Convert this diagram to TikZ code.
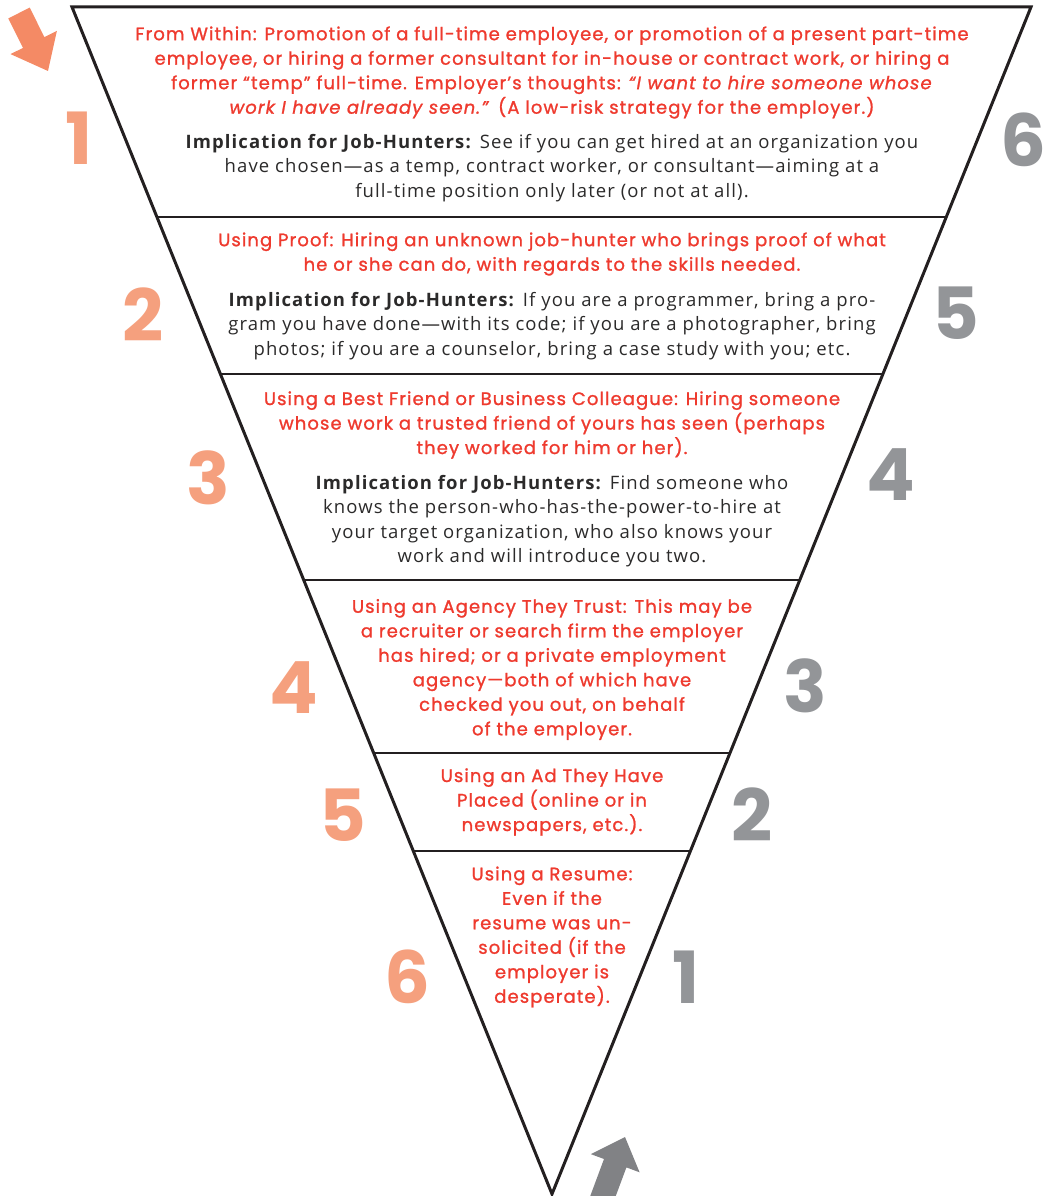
\documentclass[tikz,border=0pt]{standalone}
\usepackage{fontspec}
\usetikzlibrary{calc}
\newfontfamily\headfont{Poppins}[LetterSpace=6,FakeBold=1.2]
\newfontfamily\bodyfont{Open Sans}[LetterSpace=6]
\newfontfamily\numfont{Poppins}
\definecolor{headred}{HTML}{EE3A2E}
\definecolor{bodyink}{HTML}{2B2A2A}
\definecolor{numsalmon}{HTML}{F5A07E}
\definecolor{numgray}{HTML}{939598}
\definecolor{arroworange}{HTML}{F48A65}
\definecolor{arrowgray}{HTML}{818285}
\definecolor{lineink}{HTML}{231F20}
\tikzset{
  headtext/.style={text=headred, align=center, inner sep=0pt, font={\headfont\fontsize{18}{24.5}\selectfont}},
  bodytext/.style={text=bodyink, align=center, inner sep=0pt, font={\bodyfont\fontsize{18.5}{24.5}\selectfont}},
  numleft/.style={text=numsalmon, inner sep=0pt, font={\numfont\bfseries\fontsize{72}{72}\selectfont}},
  numright/.style={text=numgray, inner sep=0pt, font={\numfont\bfseries\fontsize{72}{72}\selectfont}},
  edge/.style={draw=lineink, line width=3pt, line join=miter},
  divider/.style={draw=lineink, line width=2.5pt},
}
\begin{document}
\begin{tikzpicture}[x=1pt,y=-1pt]
\useasboundingbox (0,0) rectangle (1044,1196);
\clip (0,0) rectangle (1044,1196);
% triangle
\coordinate (A) at (72,7);
\coordinate (B) at (1031,7);
\coordinate (C) at (552,1194);
\draw[edge] (A) -- (B) -- (C) -- cycle;
% dividers
\foreach \yy [count=\i] in {217,374,580,753,851}{
  \coordinate (L\i) at ($(A)!{(\yy-7)/1187}!(C)$);
  \coordinate (R\i) at ($(B)!{(\yy-7)/1187}!(C)$);
  \draw[divider] (L\i) -- (R\i);
}
% texts
\node[headtext] (h1) at (552,72.5) {From Within: Promotion of a full-time employee, or promotion of a present part-time\\
employee, or hiring a former consultant for in-house or contract work, or hiring a\\
former “temp” full-time. Employer’s thoughts: \textit{“I want to hire someone whose}\\
\textit{work I have already seen.”} (A low-risk strategy for the employer.)};
\node[bodytext] (b1) at (552,168) {\textbf{Implication for Job-Hunters:} See if you can get hired at an organization you\\
have chosen—as a temp, contract worker, or consultant—aiming at a\\
full-time position only later (or not at all).};
\node[headtext] (h2) at (552,254) {Using Proof: Hiring an unknown job-hunter who brings proof of what\\
he or she can do, with regards to the skills needed.};
\node[bodytext] (b2) at (552,326) {\textbf{Implication for Job-Hunters:} If you are a programmer, bring a pro-\\
gram you have done—with its code; if you are a photographer, bring\\
photos; if you are a counselor, bring a case study with you; etc.};
\node[headtext] (h3) at (552,425) {Using a Best Friend or Business Colleague: Hiring someone\\
whose work a trusted friend of yours has seen (perhaps\\
they worked for him or her).};
\node[bodytext] (b3) at (552,521) {\textbf{Implication for Job-Hunters:} Find someone who\\
knows the person-who-has-the-power-to-hire at\\
your target organization, who also knows your\\
work and will introduce you two.};
\node[headtext] (h4) at (552,669.5) {Using an Agency They Trust: This may be\\
a recruiter or search firm the employer\\
has hired; or a private employment\\
agency—both of which have\\
checked you out, on behalf\\
of the employer.};
\node[headtext] (h5) at (552,802) {Using an Ad They Have\\
Placed (online or in\\
newspapers, etc.).};
\node[headtext] (h6) at (552,937) {Using a Resume:\\
Even if the\\
resume was un-\\
solicited (if the\\
employer is\\
desperate).};
% numbers
\node[numleft] (nl1) at (79,138) {1};
\node[numleft] (nl2) at (143,315) {2};
\node[numleft] (nl3) at (208,478) {3};
\node[numleft] (nl4) at (294,688) {4};
\node[numleft] (nl5) at (343,815) {5};
\node[numleft] (nl6) at (407,977) {6};
\node[numright] (nr6) at (1023,140) {6};
\node[numright] (nr5) at (956,313) {5};
\node[numright] (nr4) at (891,475) {4};
\node[numright] (nr3) at (805,686) {3};
\node[numright] (nr2) at (752,815) {2};
\node[numright] (nr1) at (686,977) {1};
% arrows
\fill[arroworange] (8.3,18.4) -- (29.7,7.6) -- (44.4,37.1) -- (56.9,30.9) -- (48,71) -- (10.5,54.1) -- (23.0,47.9) -- cycle;
\fill[arrowgray] (625,1137) -- (639.6,1172.3) -- (626.4,1167.4) -- (604.8,1225.5) -- (582.4,1217.1) -- (604,1159) -- (590.8,1154.1) -- cycle;
\end{tikzpicture}
\end{document}
